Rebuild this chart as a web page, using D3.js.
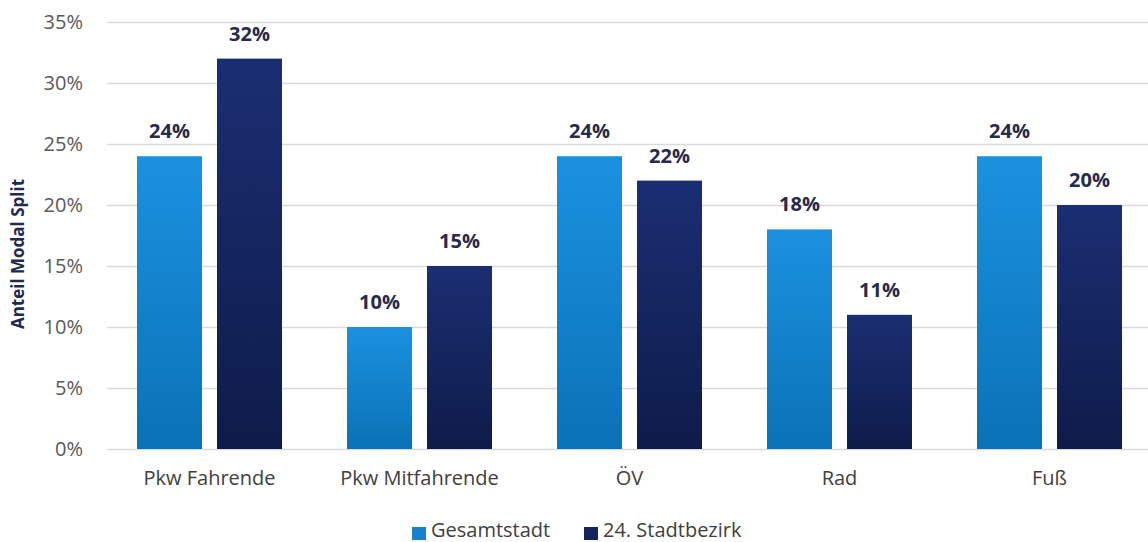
<!DOCTYPE html>
<html>
<head>
<meta charset="utf-8">
<script src="https://cdn.jsdelivr.net/npm/d3@7"></script>
<style>
  html, body { margin: 0; padding: 0; background: #fff; }
  svg { display: block; }
  text { font-family: "Open Sans", Lato, sans-serif; }
</style>
</head>
<body>
<svg id="chart" width="1148" height="542"></svg>
<script>
// Modal split shares (%) per mode of transport
const categories = ["Pkw Fahrende", "Pkw Mitfahrende", "ÖV", "Rad", "Fuß"];
const seriesNames = ["Gesamtstadt", "24. Stadtbezirk"];
const gesamtstadt = [24, 10, 24, 18, 24];
const stadtbezirk = [32, 15, 22, 11, 20];
const yTicks = [0, 5, 10, 15, 20, 25, 30, 35];
const yTitle = "Anteil Modal Split";

const FONT = "'Open Sans', Lato, sans-serif";
const svg = d3.select("#chart");
const W = 1148, H = 542;
const plot = { left: 104.5, right: 1154.5, top: 22, bottom: 449 };

const x = d3.scaleBand().domain(categories).range([plot.left, plot.right]).paddingInner(0).paddingOuter(0);
const inner = d3.scaleBand().domain(seriesNames).range([32.5, 210 - 32.5]).paddingInner(0.1875);
const y = d3.scaleLinear().domain([0, 35]).range([plot.bottom, plot.top]);

// vertical gradients for the bars
const defs = svg.append("defs");
const grads = [
  { id: "gLight", top: "#1b91e0", bottom: "#0a72b6" },
  { id: "gDark", top: "#1b2e72", bottom: "#0e1b4a" }
];
grads.forEach(g => {
  const lg = defs.append("linearGradient").attr("id", g.id)
    .attr("x1", 0).attr("y1", 0).attr("x2", 0).attr("y2", 1);
  lg.append("stop").attr("offset", "0%").attr("stop-color", g.top);
  lg.append("stop").attr("offset", "100%").attr("stop-color", g.bottom);
});
const fills = { "Gesamtstadt": "url(#gLight)", "24. Stadtbezirk": "url(#gDark)" };
const swatch = { "Gesamtstadt": "#1681cc", "24. Stadtbezirk": "#15245e" };

// gridlines
svg.append("g").selectAll("line").data(yTicks).join("line")
  .attr("x1", 107).attr("x2", W)
  .attr("y1", d => Math.round(y(d)) + 0.5).attr("y2", d => Math.round(y(d)) + 0.5)
  .attr("stroke", "#d9d9d9").attr("stroke-width", 1.5);

// y-axis tick labels
const yAxis = d3.axisLeft(y).tickValues(yTicks).tickFormat(d => d + "%").tickSize(0).tickPadding(0);
const ya = svg.append("g").attr("transform", "translate(83,0)").call(yAxis);
ya.select(".domain").remove();
ya.selectAll("text").attr("font-size", 20).attr("fill", "#595959").attr("font-family", FONT);

// x-axis category labels
const xAxis = d3.axisBottom(x).tickSize(0).tickPadding(0);
const xa = svg.append("g").attr("transform", `translate(0,${plot.bottom + 22})`).call(xAxis);
xa.select(".domain").remove();
xa.selectAll("text").attr("font-size", 20).attr("fill", "#404040").attr("font-family", FONT);

// bars
const rows = categories.map((c, i) => ({
  cat: c,
  vals: [
    { s: seriesNames[0], v: gesamtstadt[i] },
    { s: seriesNames[1], v: stadtbezirk[i] }
  ]
}));
const groups = svg.append("g").selectAll("g").data(rows).join("g")
  .attr("transform", d => `translate(${x(d.cat)},0)`);
groups.selectAll("rect").data(d => d.vals).join("rect")
  .attr("x", d => inner(d.s))
  .attr("width", inner.bandwidth())
  .attr("y", d => y(d.v))
  .attr("height", d => y(0) - y(d.v))
  .attr("fill", d => fills[d.s]);
groups.selectAll("text.val").data(d => d.vals).join("text")
  .attr("class", "val")
  .attr("x", d => inner(d.s) + inner.bandwidth() / 2)
  .attr("y", d => y(d.v) - 18)
  .attr("text-anchor", "middle")
  .attr("font-size", 20).attr("font-weight", "bold").attr("fill", "#262a4c")
  .text(d => d.v + "%");

// y-axis title
svg.append("text")
  .attr("transform", "translate(24,254) rotate(-90)")
  .attr("text-anchor", "middle")
  .attr("font-size", 17).attr("font-weight", "bold").attr("fill", "#1f2a50")
  .text(yTitle);

// legend
const legend = svg.append("g").attr("transform", "translate(0,530)");
const legendX = [412, 584];
seriesNames.forEach((s, i) => {
  const g = legend.append("g").attr("transform", `translate(${legendX[i]},0)`);
  g.append("rect").attr("x", 0).attr("y", -3).attr("width", 14).attr("height", 13).attr("fill", swatch[s]);
  g.append("text").attr("x", 19).attr("y", 7).attr("font-size", 20).attr("fill", "#404040").text(s);
});
</script>
</body>
</html>
